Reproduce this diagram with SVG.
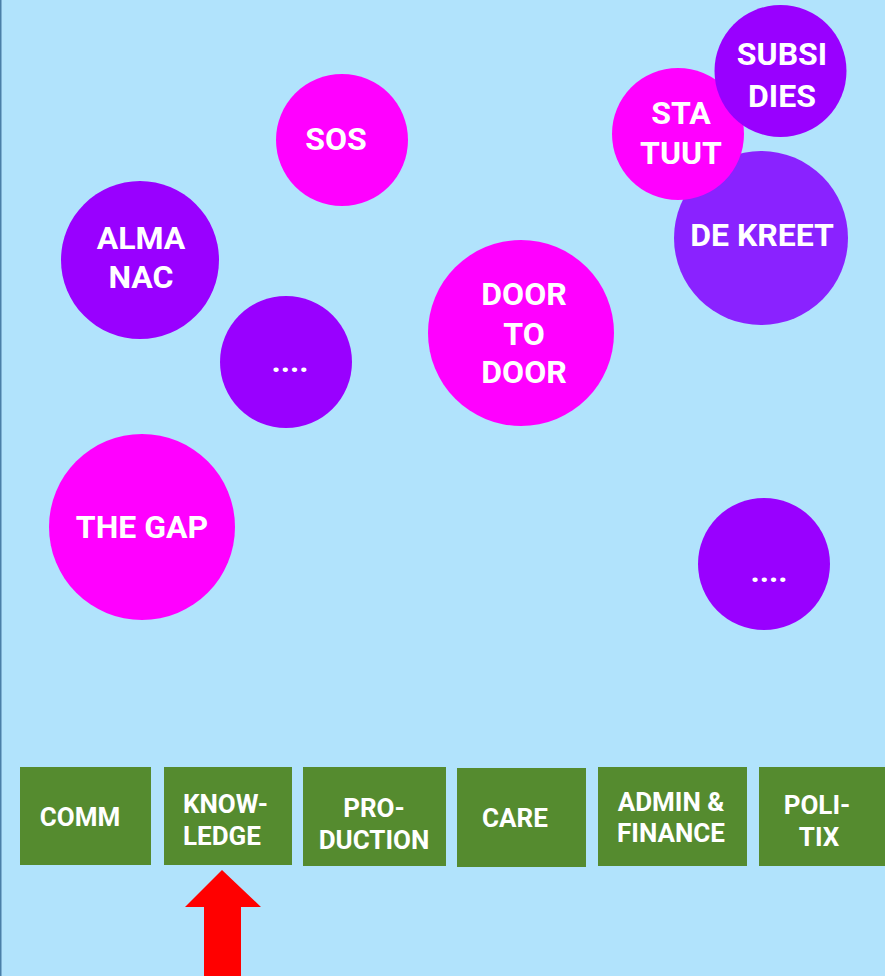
<svg xmlns="http://www.w3.org/2000/svg" width="885" height="976" viewBox="0 0 885 976">
<style>
.bg{fill:#b1e3fc}
.m{fill:#ff00ff}
.p{fill:#9900ff}
.p2{fill:#8a22ff}
.ct{font-family:Roboto,"Liberation Sans",sans-serif;font-weight:bold;font-size:32px;fill:#ffffff;text-anchor:middle}
.box{fill:#558b2f}
.bt{font-family:Roboto,"Liberation Sans",sans-serif;font-weight:bold;font-size:26px;fill:#ffffff;text-anchor:middle}
.bs{text-anchor:start}
</style>
<rect class="bg" x="0" y="0" width="885" height="976"/>
<rect x="0" y="0" width="1.5" height="976" fill="#4a7fa8"/>
<g id="sos"><circle class="m" cx="342" cy="140" r="66"/><text class="ct" x="336" y="150">SOS</text></g>
<g id="almanac"><circle class="p" cx="140" cy="260" r="79"/><text class="ct" x="141" y="249">ALMA</text><text class="ct" x="141" y="288">NAC</text></g>
<g id="dots1"><circle class="p" cx="286" cy="362" r="66"/><text class="ct" x="290" y="372">....</text></g>
<g id="door"><circle class="m" cx="521" cy="333" r="93"/><text class="ct" x="524" y="305">DOOR</text><text class="ct" x="524" y="345">TO</text><text class="ct" x="524" y="383">DOOR</text></g>
<g id="thegap"><circle class="m" cx="142" cy="527" r="93"/><text class="ct" x="142" y="538">THE GAP</text></g>
<g id="dots2"><circle class="p" cx="764" cy="564" r="66"/><text class="ct" x="769" y="582">....</text></g>
<g id="dekreet"><circle class="p2" cx="761" cy="238" r="87"/><text class="ct" x="762" y="246">DE KREET</text></g>
<g id="statuut"><circle class="m" cx="678" cy="134" r="66"/><text class="ct" x="681" y="124">STA</text><text class="ct" x="681" y="164">TUUT</text></g>
<g id="subsidies"><circle class="p" cx="780.5" cy="71" r="66"/><text class="ct" x="782" y="65">SUBSI</text><text class="ct" x="782" y="107">DIES</text></g>
<g id="comm"><rect class="box" x="20" y="767" width="131" height="98"/><text class="bt" x="80" y="826">COMM</text></g>
<g id="knowledge"><rect class="box" x="164" y="767" width="128" height="98"/><text class="bt bs" x="183" y="813">KNOW-</text><text class="bt bs" x="183" y="845">LEDGE</text></g>
<g id="production"><rect class="box" x="303" y="767" width="143" height="99"/><text class="bt" x="374" y="817">PRO-</text><text class="bt" x="374" y="849">DUCTION</text></g>
<g id="care"><rect class="box" x="457" y="768" width="129" height="99"/><text class="bt" x="515" y="827">CARE</text></g>
<g id="admin"><rect class="box" x="598" y="767" width="149" height="99"/><text class="bt" x="671" y="811">ADMIN &amp;</text><text class="bt" x="671" y="842">FINANCE</text></g>
<g id="politix"><rect class="box" x="759" y="767" width="130" height="99"/><text class="bt" x="817" y="814">POLI-</text><text class="bt" x="819" y="846">TIX</text></g>
<g id="connectors"><polygon fill="#ff0000" points="222,870 261,907 241,907 241,976 204,976 204,907 185,907"/></g>
</svg>
